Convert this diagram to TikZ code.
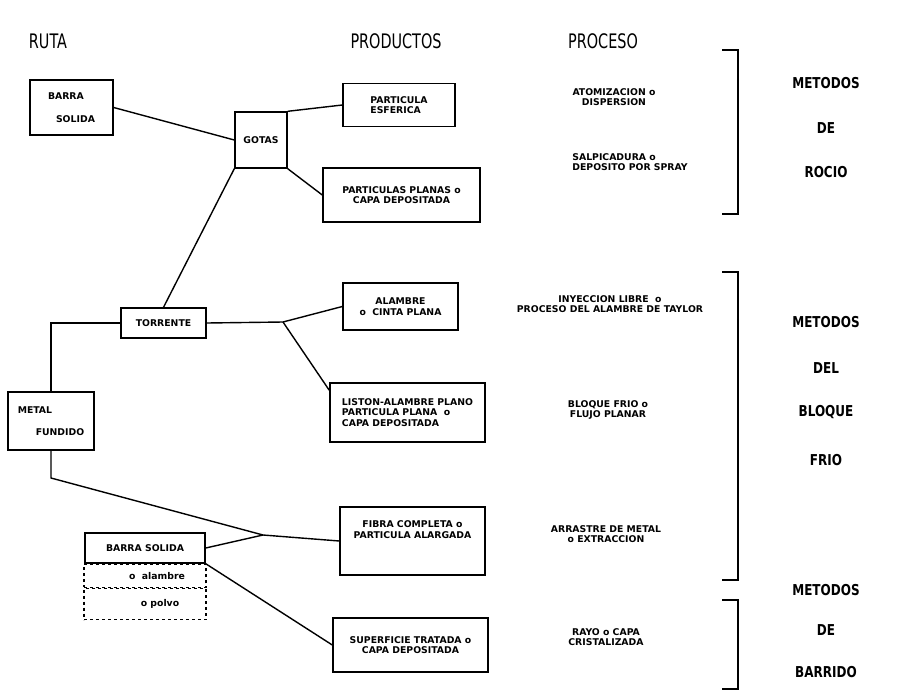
\documentclass[tikz,border=0pt]{standalone}
\usepackage{fontspec}
\setmainfont{DejaVu Sans}
\newfontfamily\plotfont[FakeStretch=0.72]{DejaVu Sans}
\newfontfamily\etiqfont[FakeStretch=0.8]{DejaVu Sans}
\newcommand{\chico}{\fontsize{9.3}{10.5}\selectfont\bfseries}
\usetikzlibrary{positioning}

\begin{document}
\begin{tikzpicture}[x=1pt,y=-1pt,line width=1.4pt,
	caja/.style={draw,line width=1.4pt,font=\chico,align=center,inner sep=2pt},
	cajapunto/.style={draw,dashed,line width=1.2pt,font=\chico,inner sep=2pt},
	titulo/.style={font=\plotfont\fontsize{20}{22}\selectfont},
	metodo/.style={font=\etiqfont\bfseries\fontsize{15}{17}\selectfont},
	proceso/.style={font=\chico,align=center,inner sep=0pt},
	corchete/.style={line width=1.4pt}]
	\useasboundingbox (0,0) rectangle (897,691);
	% encabezados
	\node[titulo] (ruta) at (48,41) {RUTA};
	\node[titulo] (productos) at (396,41) {PRODUCTOS};
	\node[titulo] (procesos) at (603,41) {PROCESO};

	% ruta
	\node[caja,minimum width=83,minimum height=55,align=left] (barra) at (71.5,107.5) {BARRA\\[12pt]\hspace*{8pt}SOLIDA};
	\node[caja,minimum width=52,minimum height=56] (gotas) at (261,140) {GOTAS};
	\node[caja,minimum width=85,minimum height=30] (torrente) at (163.5,323) {TORRENTE};
	\node[caja,minimum width=86,minimum height=58,align=left] (metal) at (51,421) {METAL\\[11pt]\hspace*{18pt}FUNDIDO};
	\node[caja,minimum width=120,minimum height=30] (barrab) at (145,548) {BARRA SOLIDA};
	\node[cajapunto,minimum width=122,minimum height=23,below=0pt of barrab] (alambreb) {\hspace*{24pt}o\ \ alambre};
	\node[cajapunto,minimum width=122,minimum height=31,below=0pt of alambreb] (polvo) {\hspace*{30pt}o polvo};

	% productos
	\node[caja,minimum width=112,minimum height=43,align=left] (esferica) at (399,105) {PARTICULA\\ESFERICA};
	\node[caja,minimum width=157,minimum height=54] (planas) at (401.5,195) {PARTICULAS PLANAS o\\CAPA DEPOSITADA};
	\node[caja,minimum width=115,minimum height=47] (alambre) at (400.5,306.5) {ALAMBRE\\o\ \ CINTA PLANA};
	\node[caja,minimum width=155,minimum height=59,align=left] (liston) at (407.5,412.5) {LISTON-ALAMBRE PLANO\\PARTICULA PLANA\ \ o\\CAPA DEPOSITADA};
	\node[caja,minimum width=145,minimum height=68] (fibra) at (412.5,541) {FIBRA COMPLETA o\\PARTICULA ALARGADA\\[12pt]\mbox{}};
	\node[caja,minimum width=155,minimum height=54] (superficie) at (410.5,645) {SUPERFICIE TRATADA o\\CAPA DEPOSITADA};

	% procesos
	\node[proceso] (atomiza) at (614,97) {ATOMIZACION o\\DISPERSION};
	\node[proceso,align=left] (salpica) at (630,162) {SALPICADURA o\\DEPOSITO POR SPRAY};
	\node[proceso] (inyeccion) at (610,304) {INYECCION LIBRE\ \ o\\PROCESO DEL ALAMBRE DE TAYLOR};
	\node[proceso] (bloque) at (608,410) {BLOQUE FRIO o\\FLUJO PLANAR};
	\node[proceso] (arrastre) at (606,534) {ARRASTRE DE METAL\\o EXTRACCION};
	\node[proceso] (rayo) at (606,637) {RAYO o CAPA\\CRISTALIZADA};

	% metodos
	\foreach \txt/\y in {METODOS/83,DE/128,ROCIO/172,METODOS/322,DEL/368,BLOQUE/412,FRIO/460,METODOS/590,DE/630,BARRIDO/672}
		\node[metodo] (m\y) at (826,\y) {\txt};
	\foreach \t/\b in {50/214,272/580,600/689}
		\draw[corchete] (722,\t) -- (738,\t) -- (738,\b) -- (722,\b);

	% conexiones
	\coordinate (j1) at (283,322);
	\coordinate (j2) at (263,535);
	\coordinate (m1) at (51,478);
	\draw (barra.east) -- (gotas.west);
	\draw (gotas.north east) -- (esferica.west);
	\draw (gotas.south east) -- (planas.west);
	\draw (gotas.south west) -- (torrente.north);
	\draw (torrente.west) -| (metal.north);
	\draw (torrente.east) -- (j1) -- (alambre.west);
	\draw (j1) -- ([yshift=-8pt]liston.north west);
	\draw (metal.south) -- (m1) -- (j2) -- (fibra.west);
	\draw (barrab.east) -- (j2);
	\draw (barrab.south east) -- (superficie.west);
\end{tikzpicture}
\end{document}
